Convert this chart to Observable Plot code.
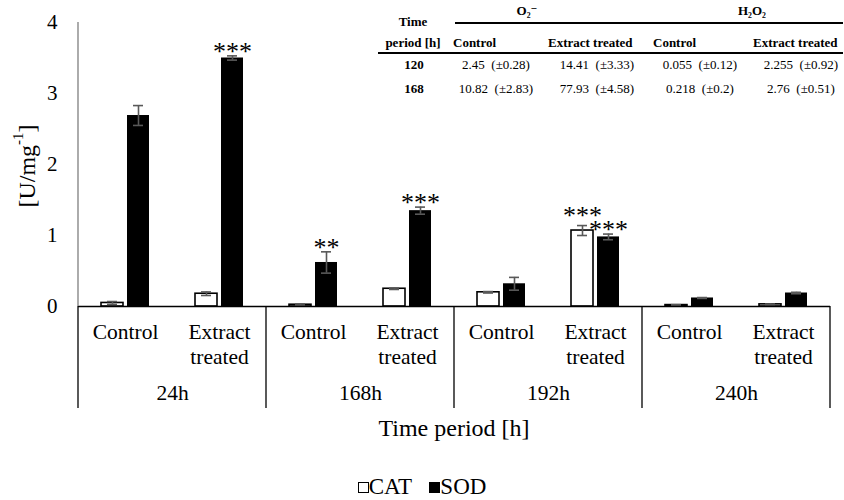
<!DOCTYPE html>
<html>
<head>
<meta charset="utf-8">
<script src="https://cdn.jsdelivr.net/npm/d3@7"></script>
<script src="https://cdn.jsdelivr.net/npm/@observablehq/plot@0.6"></script>
<style>
  body { margin: 0; background: #fff; }
  #wrap { position: relative; width: 844px; height: 500px; font-family: 'Liberation Serif', 'Times New Roman', 'DejaVu Serif', serif; color: #000; }
  #wrap svg text { font-family: 'Liberation Serif', 'Times New Roman', 'DejaVu Serif', serif; }
  .t { position: absolute; white-space: pre; font-size: 13px; line-height: 1; transform: translate(-50%, -50%); }
  .b { font-weight: bold; }
  .l { transform: translate(0, -50%); }
  .hl { position: absolute; height: 1.5px; background: #000; }
  #legend { position: absolute; left: 0; top: 476px; width: 844px; text-align: center; font-size: 23px; line-height: 22px; }
  .sq { display: inline-block; width: 11px; height: 11px; border: 1.4px solid #000; box-sizing: border-box; margin-right: 0px; vertical-align: 1px; }
</style>
</head>
<body>
<div id="wrap"></div>
<script>
// ---- data ----
const periods = ["24h", "168h", "192h", "240h"];
const treatments = ["Control", "Extract treated"];
const enzymes = ["CAT", "SOD"];
// order: [24h Control, 24h Extract, 168h Control, 168h Extract, 192h Control, 192h Extract, 240h Control, 240h Extract]
const catValues = [0.05, 0.18, 0.025, 0.25, 0.20, 1.07, 0.02, 0.03];
const catErrors = [0.02, 0.025, 0.01, 0.01, 0.01, 0.07, 0.005, 0.005];
const sodValues = [2.69, 3.50, 0.62, 1.35, 0.32, 0.98, 0.12, 0.19];
const sodErrors = [0.14, 0.03, 0.15, 0.05, 0.09, 0.04, 0.006, 0.01];
const catStars = ["", "", "", "", "", "***", "", ""];
const sodStars = ["", "***", "**", "***", "", "***", "", ""];
const yTicks = [0, 1, 2, 3, 4];

// inset table
const tableSpecies = ["O\u2082\u207B", "H\u2082O\u2082"];
const tableColumns = ["Control", "Extract treated", "Control", "Extract treated"];
const tablePeriods = ["120", "168"];
const tableRows = [
  ["2.45  (\u00B10.28)", "14.41  (\u00B13.33)", "0.055  (\u00B10.12)", "2.255  (\u00B10.92)"],
  ["10.82  (\u00B12.83)", "77.93  (\u00B14.58)", "0.218  (\u00B10.2)", "2.76  (\u00B10.51)"]
];

// ---- build rows ----
const rows = [];
periods.forEach((p, i) => treatments.forEach((t, j) => {
  const k = i * 2 + j;
  rows.push({period: p, treatment: t, enzyme: "CAT", value: catValues[k], err: catErrors[k], stars: catStars[k]});
  rows.push({period: p, treatment: t, enzyme: "SOD", value: sodValues[k], err: sodErrors[k], stars: sodStars[k]});
}));
const cat = rows.filter(d => d.enzyme === "CAT");
const sod = rows.filter(d => d.enzyme === "SOD");

const FONT = "'Liberation Serif', 'Times New Roman', 'DejaVu Serif', serif";
const W = 844, H = 470;
const barInset = 36, capInset = 42, off = 13;

function errMarks(data, dx) {
  return [
    Plot.ruleX(data, {fx: "period", x: "treatment", y1: d => d.value - d.err, y2: d => d.value + d.err, dx, stroke: "#595959", strokeWidth: 1.6}),
    Plot.tickY(data, {fx: "period", x: "treatment", y: d => d.value + d.err, dx, insetLeft: capInset, insetRight: capInset, stroke: "#595959", strokeWidth: 1.6}),
    Plot.tickY(data, {fx: "period", x: "treatment", y: d => d.value - d.err, dx, insetLeft: capInset, insetRight: capInset, stroke: "#595959", strokeWidth: 1.6})
  ];
}

const plot = Plot.plot({
  width: W, height: H,
  marginLeft: 77, marginRight: 14, marginTop: 22, marginBottom: H - 306,
  style: {fontFamily: FONT, background: "white", color: "black", overflow: "visible"},
  fx: {domain: periods, padding: 0, axis: null},
  x: {domain: treatments, padding: 0, axis: null},
  y: {domain: [0, 4], axis: null},
  marks: [
    Plot.axisY({ticks: yTicks, tickSize: 0, tickPadding: 21, fontSize: 21, label: null, tickFormat: d => String(d)}),
    Plot.axisX({tickSize: 0, tickPadding: 15, fontSize: 21.5, lineHeight: 1.15, label: null, tickFormat: d => d.replace(" ", "\n")}),
    Plot.axisFx({anchor: "bottom", tickSize: 0, tickPadding: 78, fontSize: 21.5, label: null}),
    Plot.barY(cat, {fx: "period", x: "treatment", y: "value", dx: -off, insetLeft: barInset, insetRight: barInset, fill: "white", stroke: "black", strokeWidth: 1.6}),
    Plot.barY(sod, {fx: "period", x: "treatment", y: "value", dx: off, insetLeft: barInset, insetRight: barInset, fill: "black"}),
    ...errMarks(cat, -off),
    ...errMarks(sod, off),
    Plot.ruleY([0], {stroke: "black", strokeWidth: 1.3}),
    Plot.text(cat.filter(d => d.stars), {fx: "period", x: "treatment", y: d => d.value + d.err, text: "stars", dx: -off, dy: -2, lineAnchor: "bottom", fontSize: 26}),
    Plot.text(sod.filter(d => d.stars), {fx: "period", x: "treatment", y: d => d.value + d.err, text: "stars", dx: off, dy: 4, lineAnchor: "bottom", fontSize: 26})
  ]
});

const wrap = document.getElementById("wrap");
wrap.appendChild(plot);

// ---- axis lines, separators, titles (positions from the plot's scales) ----
const svg = d3.select(plot.tagName.toLowerCase() === "svg" ? plot : plot.querySelector("svg"));
const fx = plot.scale("fx");
const y = plot.scale("y");
const y0 = y.apply(0), yTop = y.apply(4);
const left = fx.apply(periods[0]);
const edges = periods.map(p => fx.apply(p)).concat([fx.apply(periods[periods.length - 1]) + fx.bandwidth]);
const g = svg.append("g");
g.append("line").attr("x1", left).attr("x2", left).attr("y1", yTop).attr("y2", y0).attr("stroke", "#7f7f7f").attr("stroke-width", 1.3);
edges.forEach(x => g.append("line").attr("x1", x).attr("x2", x).attr("y1", y0).attr("y2", y0 + 102).attr("stroke", "black").attr("stroke-width", 1.3));
const right = edges[edges.length - 1];
g.append("text").attr("x", (left + right) / 2).attr("y", y0 + 122).attr("text-anchor", "middle").attr("dominant-baseline", "central")
  .attr("font-size", 24).text("Time period [h]");
const yl = g.append("text").attr("transform", `translate(27,${(y0 + yTop) / 2 + 2}) rotate(-90)`).attr("text-anchor", "middle").attr("dominant-baseline", "central")
  .attr("font-size", 24);
yl.append("tspan").text("[U/mg");
yl.append("tspan").attr("font-size", 15).attr("dy", -9).text("-1");
yl.append("tspan").attr("dy", 9).text("]");

// ---- inset table ----
function put(txt, x, yy, cls) {
  const s = document.createElement("span");
  s.className = "t " + (cls || "");
  s.style.left = x + "px"; s.style.top = yy + "px";
  s.textContent = txt;
  wrap.appendChild(s);
}
function hline(x1, x2, yy) {
  const d = document.createElement("div");
  d.className = "hl"; d.style.left = x1 + "px"; d.style.top = yy + "px"; d.style.width = (x2 - x1) + "px";
  wrap.appendChild(d);
}
put("Time", 413, 21, "b");
put("period [h]", 413, 42, "b");
put(tableSpecies[0], 527, 10, "b");
put(tableSpecies[1], 752, 10, "b");
hline(455, 843, 22);
hline(378, 843, 52);
const colLeft = [453, 548, 653, 753];
tableColumns.forEach((c, i) => put(c, colLeft[i], 42, "b l"));
const colCenter = [496, 597, 700, 801];
tablePeriods.forEach((p, r) => {
  const yy = 64 + r * 24;
  put(p, 414, yy, "b");
  tableRows[r].forEach((v, i) => put(v, colCenter[i], yy));
});

// ---- legend ----
const lg = document.createElement("div");
lg.id = "legend";
lg.innerHTML = `<span class="sq" style="background:#fff"></span>${enzymes[0]}&nbsp;&nbsp;&nbsp;<span class="sq" style="background:#000"></span>${enzymes[1]}`;
wrap.appendChild(lg);
</script>
</body>
</html>
